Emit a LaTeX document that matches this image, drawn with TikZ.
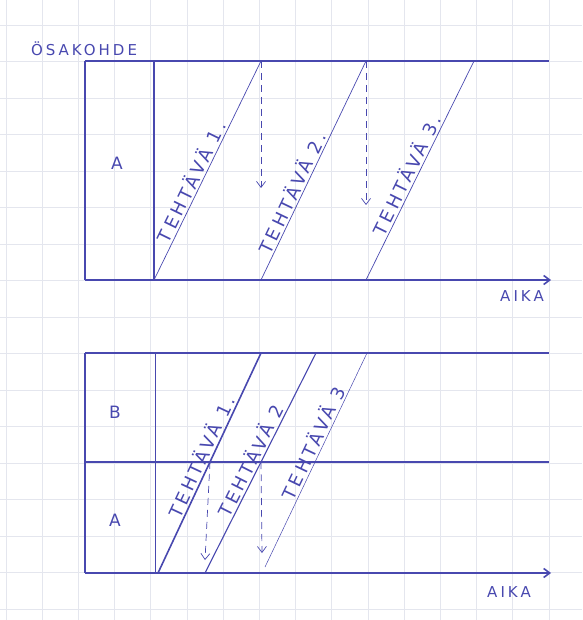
\documentclass[tikz,border=0pt]{standalone}
\usepackage{fontspec}
\newfontfamily\handfont[LetterSpace=20]{DejaVu Sans}
\usetikzlibrary{arrows.meta}
\definecolor{pen}{RGB}{72,72,175}
\definecolor{paper}{RGB}{228,230,238}

\begin{document}
\begin{tikzpicture}[x=1pt,y=-1pt,>={Straight Barb[length=6pt,width=9pt]},
  frame/.style={pen,line width=1.6pt},
  task/.style={pen,line width=0.7pt},
  wait/.style={pen,line width=0.7pt,dash pattern=on 7pt off 5pt,->},
  lbl/.style={font=\handfont\fontsize{17}{17}\selectfont,text=pen,inner sep=2pt},
  small/.style={lbl,font=\handfont\fontsize{15}{15}\selectfont},
  tasklbl/.style={lbl,font=\handfont\fontsize{18}{18}\selectfont,sloped,above,inner sep=2pt}]
  \useasboundingbox (0,0) rectangle (582,620);
  % graph paper
  \foreach \gx in {0,...,15}
    \draw[paper,line width=0.8pt] (6+36.2*\gx,0) -- (6+36.2*\gx,620);
  \foreach \gy in {0,...,16}
    \draw[paper,line width=0.8pt] (0,25+36.5*\gy) -- (582,25+36.5*\gy);

  % upper chart: one sub-target
  \begin{scope}
    \draw[frame] (85,61) -- (549,61);
    \draw[frame,->] (85,280) -- (551,280);
    \draw[frame] (85,61) -- (85,280);
    \draw[frame] (154,61) -- (154,280);
    \node[small] (osakohde) at (84,49) {ÖSAKOHDE};
    \node[lbl] (upA) at (117,163) {A};
    \node[small] (upaika) at (522,296) {AIKA};
    \coordinate (u1b) at (154,280); \coordinate (u1t) at (261,61);
    \coordinate (u2b) at (261,280); \coordinate (u2t) at (366,61);
    \coordinate (u3b) at (366,280); \coordinate (u3t) at (474,61);
    \coordinate (u1w) at (261,188); \coordinate (u2w) at (366,205);
    \draw[task] (u1b) -- node[tasklbl,pos=0.43] (upt1) {TEHTÄVÄ 1.} (u1t);
    \draw[task] (u2b) -- node[tasklbl,pos=0.38] (upt2) {TEHTÄVÄ 2.} (u2t);
    \draw[task] (u3b) -- node[tasklbl,pos=0.46] (upt3) {TEHTÄVÄ 3.} (u3t);
    \draw[wait] (u1t) -- (u1w);
    \draw[wait] (u2t) -- (u2w);
  \end{scope}

  % lower chart: two sub-targets
  \begin{scope}
    \draw[frame] (85,353) -- (549,353);
    \draw[frame] (85,462) -- (549,462);
    \draw[frame,->] (85,573) -- (551,573);
    \draw[frame] (85,353) -- (85,573);
    \draw[pen,line width=1pt] (155,353) -- (155,573);
    \node[lbl] (loB) at (115,412) {B};
    \node[lbl] (loA) at (115,520) {A};
    \node[small] (loaika) at (509,592) {AIKA};
    \coordinate (l1b) at (158,573); \coordinate (l1t) at (261,353);
    \coordinate (l2b) at (205,573); \coordinate (l2t) at (316,353);
    \coordinate (l3b) at (265,567); \coordinate (l3t) at (367,353);
    \coordinate (l1m) at (210,462); \coordinate (l1w) at (205,560);
    \coordinate (l2m) at (261,462); \coordinate (l2w) at (262,553);
    \draw[task,line width=1.6pt] (l1b) -- node[tasklbl,pos=0.51] (lot1) {TEHTÄVÄ 1.} (l1t);
    \draw[task,line width=1.1pt] (l2b) -- node[tasklbl,pos=0.49] (lot2) {TEHTÄVÄ 2} (l2t);
    \draw[task,line width=0.5pt] (l3b) -- node[tasklbl,pos=0.56] (lot3) {TEHTÄVÄ 3} (l3t);
    \draw[wait] (l1m) -- (l1w);
    \draw[wait] (l2m) -- (l2w);
  \end{scope}
\end{tikzpicture}
\end{document}
